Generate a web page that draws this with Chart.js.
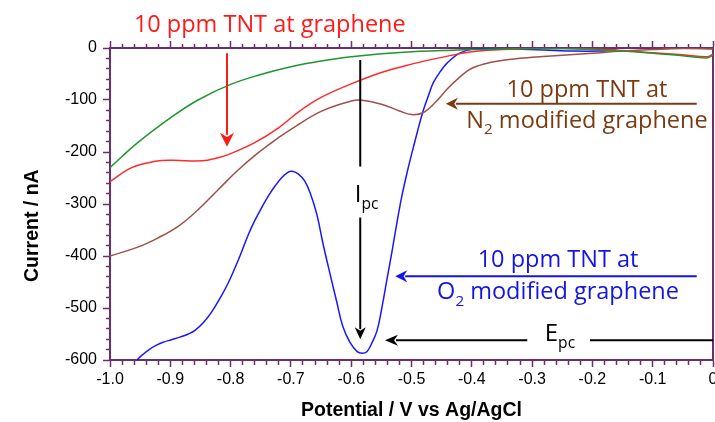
<!DOCTYPE html>
<html>
<head>
<meta charset="utf-8">
<script src="https://cdn.jsdelivr.net/npm/chart.js@4/dist/chart.umd.min.js"></script>
<style>
    html, body { margin: 0; padding: 0; background: #fff; }
</style>
</head>
<body>
<canvas id="grafico" width="715" height="422"></canvas>
<script>
// Potencial (V vs Ag/AgCl) e corrente (nA)
const potVerde = [-1.0, -0.954, -0.897, -0.854, -0.8, -0.75, -0.7, -0.65, -0.6, -0.55, -0.5, -0.45, -0.4, -0.35, -0.3, -0.25, -0.2, -0.15, -0.1, -0.05, -0.01, 0];
const corrVerde = [-230, -182, -132, -100, -70, -51, -36, -25, -17, -11, -7, -5, -3, -2, -1, -1, -3, -6, -10, -15, -19, -14];

const potVermelho = [-1.0, -0.964, -0.925, -0.897, -0.847, -0.821, -0.804, -0.76, -0.721, -0.685, -0.65, -0.6, -0.55, -0.5, -0.45, -0.4, -0.35, -0.3, -0.25, -0.2, -0.15, -0.1, -0.05, -0.01, 0];
const corrVermelho = [-257, -230, -218, -216, -217, -211, -205, -182, -154, -121, -95, -69, -47, -31, -18, -7, -3, -1, -1, -2, -5, -9, -13, -17, -12];

const potMarrom = [-1.0, -0.954, -0.92, -0.887, -0.854, -0.821, -0.788, -0.755, -0.72, -0.698, -0.65, -0.6, -0.585, -0.55, -0.52, -0.5, -0.48, -0.46, -0.44, -0.42, -0.4, -0.37, -0.33, -0.3, -0.25, -0.2, -0.15, -0.1, -0.05, 0];
const corrMarrom = [-400, -383, -365, -343, -311, -273, -235, -202, -172, -155, -122, -102, -100, -108, -121, -128, -124, -104, -78, -56, -39, -28, -21, -18, -14, -10, -6, -3, -1, -2];

const potAzul = [-0.96, -0.955, -0.945, -0.934, -0.922, -0.912, -0.898, -0.884, -0.87, -0.859, -0.845, -0.831, -0.818, -0.804, -0.788, -0.771, -0.76, -0.748, -0.737, -0.726, -0.715, -0.705, -0.698, -0.688, -0.677, -0.668, -0.657, -0.647, -0.635, -0.624, -0.614, -0.602, -0.59, -0.582, -0.574, -0.566, -0.557, -0.549, -0.541, -0.532, -0.524, -0.516, -0.507, -0.498, -0.49, -0.481, -0.472, -0.464, -0.452, -0.441, -0.42, -0.398, -0.37, -0.33, -0.28, -0.23, -0.19, -0.16];
const corrAzul = [-612, -600, -589, -579, -571, -566, -561, -556, -550, -543, -528, -507, -482, -452, -410, -360, -332, -306, -284, -265, -249, -239, -237, -242, -256, -279, -320, -375, -435, -488, -535, -566, -584, -587, -584, -568, -543, -499, -447, -389, -335, -285, -238, -196, -160, -122, -92, -67, -45, -29, -10, -2, -1, -2, -4, -6, -6, -4];

const limitesX = [-1.0, 0];
const limitesY = [-600, 0];

const corEixo = '#6b2f6e';

function pontos(xs, ys) {
    return xs.map((v, i) => ({ x: v, y: ys[i] }));
}

function serie(xs, ys, cor) {
    return {
        data: pontos(xs, ys),
        borderColor: cor,
        borderWidth: 1.5,
        pointRadius: 0,
        tension: 0.4,
        fill: false
    };
}

const ehMaiorX = v => Math.abs(v * 10 - Math.round(v * 10)) < 1e-6;
const ehMaiorY = v => Math.abs(v % 100) < 1e-6;

// seta simples com ponta cheia em (x2, y2)
function seta(ctx, x1, y1, x2, y2, cor, comp, larg) {
    const ang = Math.atan2(y2 - y1, x2 - x1);
    const bx = x2 - comp * Math.cos(ang);
    const by = y2 - comp * Math.sin(ang);
    ctx.strokeStyle = cor;
    ctx.fillStyle = cor;
    ctx.lineWidth = 2;
    ctx.beginPath();
    ctx.moveTo(x1, y1);
    ctx.lineTo(bx + 2 * Math.cos(ang), by + 2 * Math.sin(ang));
    ctx.stroke();
    ctx.beginPath();
    ctx.moveTo(x2, y2);
    ctx.lineTo(bx + larg * Math.sin(ang), by - larg * Math.cos(ang));
    ctx.lineTo(bx + comp * 0.3 * Math.cos(ang), by + comp * 0.3 * Math.sin(ang));
    ctx.lineTo(bx - larg * Math.sin(ang), by + larg * Math.cos(ang));
    ctx.closePath();
    ctx.fill();
}

function linha(ctx, x1, y1, x2, y2, cor) {
    ctx.strokeStyle = cor;
    ctx.lineWidth = 2;
    ctx.beginPath();
    ctx.moveTo(x1, y1);
    ctx.lineTo(x2, y2);
    ctx.stroke();
}

// texto com partes em subscrito; alinhamento 'center' ou 'left'
function texto(ctx, partes, x, y, cor, tam, alinha) {
    const fonte = t => `${t}px "Open Sans", sans-serif`;
    let total = 0;
    partes.forEach(([t, sub]) => {
        ctx.font = fonte(sub ? tam * 0.65 : tam);
        total += ctx.measureText(t).width;
    });
    let cx = alinha === 'center' ? x - total / 2 : x;
    ctx.fillStyle = cor;
    ctx.textAlign = 'left';
    ctx.textBaseline = 'alphabetic';
    partes.forEach(([t, sub]) => {
        ctx.font = fonte(sub ? tam * 0.65 : tam);
        ctx.fillText(t, cx, sub ? y + tam * 0.28 : y);
        cx += ctx.measureText(t).width;
    });
}

const anotacoes = {
    id: 'anotacoes',
    afterDatasetsDraw(chart) {
        const { ctx, scales: { x, y } } = chart;
        const px = v => x.getPixelForValue(v);
        const py = v => y.getPixelForValue(v);
        ctx.save();

        // grafeno puro
        texto(ctx, [['10 ppm TNT at graphene']], px(-0.735), py(31), '#ff1a1a', 23.5, 'center');
        seta(ctx, px(-0.806), py(-10), px(-0.806), py(-190), '#ff1a1a', 14, 7);

        // grafeno modificado com N2
        texto(ctx, [['10 ppm TNT at']], px(-0.209), py(-94), '#7a3b12', 23.5, 'center');
        texto(ctx, [['N'], ['2', true], [' modified graphene']], px(-0.209), py(-153), '#7a3b12', 23.5, 'center');
        seta(ctx, px(-0.027), py(-107), px(-0.443), py(-107), '#7a3b12', 12, 6);

        // grafeno modificado com O2
        texto(ctx, [['10 ppm TNT at']], px(-0.257), py(-422), '#1414e6', 23.5, 'center');
        texto(ctx, [['O'], ['2', true], [' modified graphene']], px(-0.257), py(-483), '#1414e6', 23.5, 'center');
        seta(ctx, px(-0.027), py(-439), px(-0.527), py(-439), '#1414e6', 12, 6);

        // Ipc
        linha(ctx, px(-0.585), py(-23), px(-0.585), py(-228), '#000');
        texto(ctx, [['I'], ['pc', true]], px(-0.594), py(-297), '#000', 24, 'left');
        seta(ctx, px(-0.585), py(-326), px(-0.585), py(-560), '#000', 12, 5.5);

        // Epc
        seta(ctx, px(-0.308), py(-562), px(-0.544), py(-562), '#000', 13, 5.5);
        linha(ctx, px(-0.204), py(-562), px(0), py(-562), '#000');
        texto(ctx, [['E'], ['pc', true]], px(-0.279), py(-564), '#000', 24, 'left');

        ctx.restore();
    }
};

const fonteTick = { family: '"Liberation Sans", Arial, sans-serif', size: 16 };
const fonteTitulo = { family: '"Liberation Sans", Arial, sans-serif', size: 19.5, weight: 'bold', lineHeight: 1.2 };

const ctxGrafico = document.getElementById('grafico').getContext('2d');
const grafico = new Chart(ctxGrafico, {
    type: 'line',
    data: {
        datasets: [
            serie(potVerde, corrVerde, '#22952c'),
            serie(potVermelho, corrVermelho, '#ff2a2a'),
            serie(potMarrom, corrMarrom, '#9e5148'),
            serie(potAzul, corrAzul, '#1818ff')
        ]
    },
    options: {
        responsive: false,
        animation: false,
        devicePixelRatio: 1,
        layout: { padding: 0 },
        plugins: {
            legend: { display: false },
            tooltip: { enabled: false }
        },
        scales: {
            x: {
                type: 'linear',
                position: 'bottom',
                min: limitesX[0],
                max: limitesX[1],
                afterFit: s => { s.height = 62; s.paddingLeft = 0; s.paddingRight = 0; },
                border: { color: corEixo, width: 2 },
                grid: {
                    drawOnChartArea: false,
                    color: corEixo,
                    tickLength: 7,
                    tickWidth: 1.5,
                    tickBorderDash: c => ehMaiorX(c.tick.value) ? [] : [4, 100]
                },
                ticks: {
                    stepSize: 0.02,
                    autoSkip: false,
                    maxRotation: 0,
                    padding: 3,
                    color: '#000',
                    font: fonteTick,
                    callback: v => ehMaiorX(v) ? (Math.abs(v) < 1e-9 ? '0' : v.toFixed(1)) : ''
                },
                title: {
                    display: true,
                    text: 'Potential / V vs Ag/AgCl',
                    color: '#000',
                    font: fonteTitulo,
                    padding: { top: 0, bottom: 0 }
                }
            },
            x2: {
                type: 'linear',
                position: 'top',
                min: limitesX[0],
                max: limitesX[1],
                afterFit: s => { s.height = 48; s.paddingLeft = 0; s.paddingRight = 0; },
                border: { color: corEixo, width: 2 },
                grid: {
                    drawOnChartArea: false,
                    color: corEixo,
                    tickLength: 7,
                    tickWidth: 1.5,
                    tickBorderDash: c => ehMaiorX(c.tick.value) ? [] : [0, 3, 4, 100]
                },
                ticks: { stepSize: 0.02, autoSkip: false, display: false }
            },
            y: {
                type: 'linear',
                position: 'left',
                min: limitesY[0],
                max: limitesY[1],
                afterFit: s => { s.width = 110; },
                border: { color: corEixo, width: 2 },
                grid: {
                    drawOnChartArea: false,
                    color: corEixo,
                    tickLength: 7,
                    tickWidth: 1.5,
                    tickBorderDash: c => ehMaiorY(c.tick.value) ? [] : [0, 3, 4, 100]
                },
                ticks: {
                    stepSize: 20,
                    autoSkip: false,
                    padding: 6,
                    color: '#000',
                    font: fonteTick,
                    callback: v => ehMaiorY(v) ? String(v) : ''
                },
                title: {
                    display: true,
                    text: 'Current / nA        ',
                    color: '#000',
                    font: fonteTitulo,
                    padding: { top: 21, bottom: 0 }
                }
            },
            y2: {
                type: 'linear',
                position: 'right',
                min: limitesY[0],
                max: limitesY[1],
                afterFit: s => { s.width = 2; },
                border: { color: corEixo, width: 2 },
                grid: { display: false, drawTicks: false },
                ticks: { display: false }
            }
        }
    },
    plugins: [anotacoes]
});
</script>
</body>
</html>
